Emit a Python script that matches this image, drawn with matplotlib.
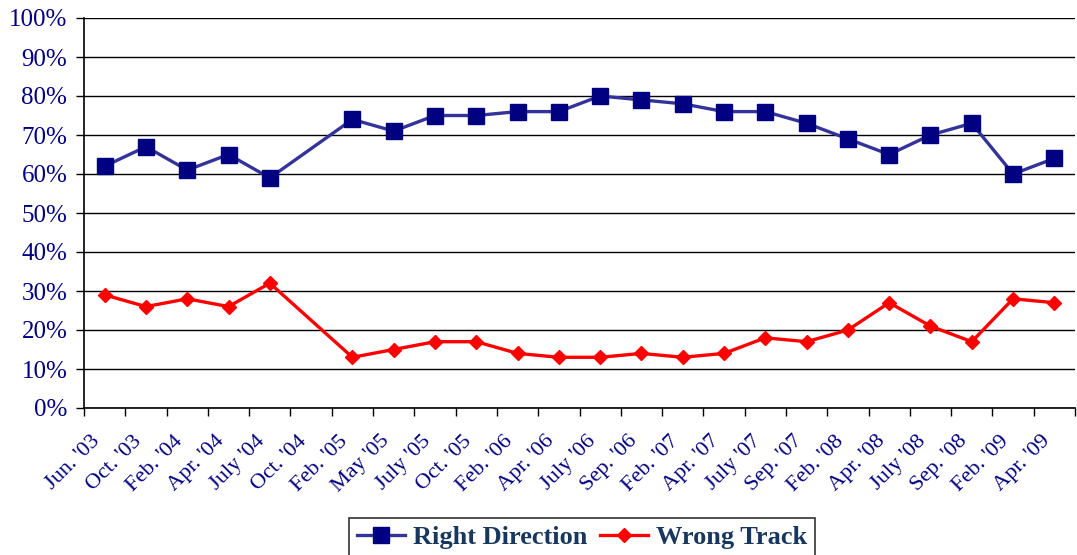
import matplotlib.pyplot as plt
import numpy as np
from matplotlib.lines import Line2D
from matplotlib.transforms import ScaledTranslation

categories = ["Jun. '03", "Oct. '03", "Feb. '04", "Apr. '04", "July '04", "Oct. '04",
              "Feb. '05", "May '05", "July '05", "Oct. '05", "Feb. '06", "Apr. '06",
              "July '06", "Sep. '06", "Feb. '07", "Apr. '07", "July '07", "Sep. '07",
              "Feb. '08", "Apr. '08", "July '08", "Sep. '08", "Feb. '09", "Apr. '09"]
right_direction = [62, 67, 61, 65, 59, np.nan, 74, 71, 75, 75, 76, 76,
                   80, 79, 78, 76, 76, 73, 69, 65, 70, 73, 60, 64]
wrong_track = [29, 26, 28, 26, 32, np.nan, 13, 15, 17, 17, 14, 13,
               13, 14, 13, 14, 18, 17, 20, 27, 21, 17, 28, 27]

plt.rcParams['font.family'] = ['Liberation Serif', 'DejaVu Serif']
navy = '#000080'

fig = plt.figure(figsize=(10.77, 5.55), dpi=100)
ax = fig.add_axes([84 / 1077, 1 - 408 / 555, 991 / 1077, 390 / 555])

x = np.arange(len(categories))
rd = np.array(right_direction, dtype=float)
wt = np.array(wrong_track, dtype=float)
ok_rd = ~np.isnan(rd)
ok_wt = ~np.isnan(wt)

ax.plot(x[ok_rd], rd[ok_rd] / 100, color='#333399', lw=2.4, marker='s', ms=11,
        mfc=navy, mec=navy, zorder=3)
ax.plot(x[ok_wt], wt[ok_wt] / 100, color='#FF0000', lw=2.4, marker='D', ms=7.5,
        mfc='#FF0000', mec='#FF0000', zorder=3)

ax.set_xlim(-0.5, len(categories) - 0.5)
ax.set_ylim(0, 1)
ax.set_yticks(np.arange(0, 1.01, 0.1))
ax.set_yticklabels([f'{int(round(v * 100))}%' for v in np.arange(0, 1.01, 0.1)])
ax.yaxis.grid(True, color='black', lw=1)
ax.set_axisbelow(True)

# boundary ticks, labels centred on categories
ax.set_xticks(np.arange(-0.5, len(categories)), minor=False)
ax.set_xticklabels([])
ax.set_xticks(x, minor=True)
ax.set_xticklabels(categories, minor=True, rotation=45, ha='right',
                   rotation_mode='anchor', fontsize=16, color=navy)
ax.tick_params(axis='x', which='minor', length=0, pad=17)
ax.tick_params(axis='x', which='major', length=6, width=1, direction='out')
ax.tick_params(axis='y', length=6, width=1, direction='out', labelsize=18,
               labelcolor=navy, pad=6)
shift = ScaledTranslation(-14 / 100, 0, fig.dpi_scale_trans)
for lab in ax.get_xticklabels(minor=True):
    lab.set_transform(lab.get_transform() + shift)

for s in ['top', 'right']:
    ax.spines[s].set_visible(False)
for s in ['left', 'bottom']:
    ax.spines[s].set_linewidth(1.2)

handles = [Line2D([], [], color='#333399', lw=2.4, marker='s', ms=11, mfc=navy, mec=navy),
           Line2D([], [], color='#FF0000', lw=2.4, marker='D', ms=7.5, mfc='#FF0000', mec='#FF0000')]
leg = fig.legend(handles, ['Right Direction', 'Wrong Track'], loc='upper center',
                 bbox_to_anchor=(582 / 1077, 1 - 518 / 555), ncol=2, frameon=True,
                 fancybox=False, edgecolor='black', handlelength=1.8,
                 columnspacing=0.5, handletextpad=0.3, borderpad=0.3,
                 borderaxespad=0, prop={'weight': 'bold', 'size': 19})
leg.get_frame().set_linewidth(1.2)
for t in leg.get_texts():
    t.set_color('#17375E')

fig.savefig('out.png', dpi=100)
